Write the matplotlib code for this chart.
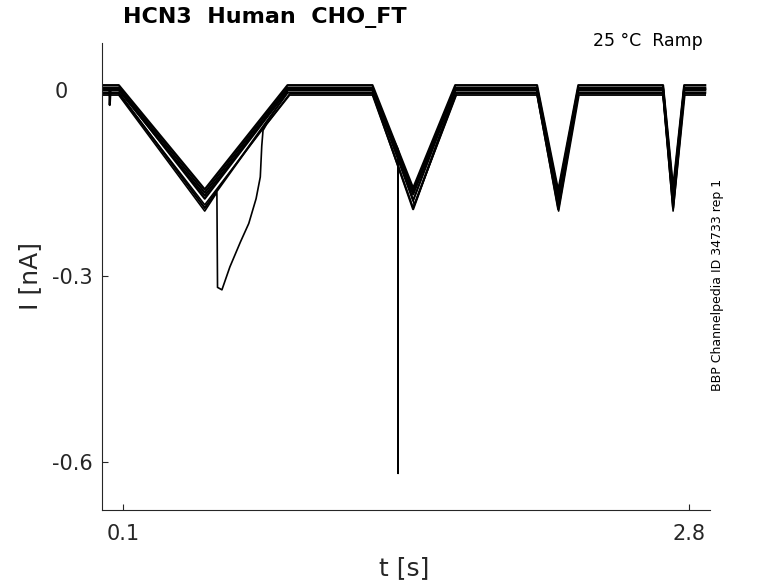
import matplotlib
matplotlib.use("Agg")
import matplotlib.pyplot as plt
import matplotlib.transforms as mtransforms

# breakpoints of the ramp protocol [s]
ramp_t = [0.0, 0.08, 0.49, 0.885, 1.29, 1.484, 1.685, 2.075, 2.176, 2.272, 2.676, 2.724, 2.777, 2.877]

# sweeps [nA]
sweep_1 = [0.008, 0.008, -0.160, 0.008, 0.008, -0.158, 0.008, 0.008, -0.162, 0.008, 0.008, -0.158, 0.008, 0.008]
sweep_2 = [0.004, 0.004, -0.165, 0.004, 0.004, -0.163, 0.004, 0.004, -0.168, 0.004, 0.004, -0.165, 0.004, 0.004]
sweep_3 = [0.000, 0.000, -0.170, 0.000, 0.000, -0.168, 0.000, 0.000, -0.175, 0.000, 0.000, -0.172, 0.000, 0.000]
sweep_4 = [-0.004, -0.004, -0.190, -0.004, -0.004, -0.192, -0.004, -0.004, -0.192, -0.004, -0.004, -0.190, -0.004, -0.004]

# sweep with the early dip at start
dip_t = [0.0, 0.035, 0.037, 0.041, 0.08, 0.49, 0.89, 1.29, 1.484, 1.685, 2.075, 2.176, 2.272, 2.676, 2.724, 2.777, 2.877]
dip_i = [0.002, 0.002, -0.024, 0.002, 0.002, -0.175, 0.002, 0.002, -0.178, 0.002, 0.002, -0.18, 0.002, 0.002, -0.178, 0.002, 0.002]

# sweep with the large inward jump after the first ramp
jump_t = [0.0, 0.08, 0.49, 0.548, 0.551, 0.572, 0.61, 0.66, 0.70, 0.735, 0.755, 0.762, 0.768, 0.785, 0.895,
          1.29, 1.484, 1.69, 2.075, 2.178, 2.275, 2.676, 2.724, 2.78, 2.877]
jump_i = [-0.008, -0.008, -0.195, -0.165, -0.318, -0.322, -0.285, -0.245, -0.215, -0.175, -0.140, -0.090, -0.065,
          -0.055, -0.008, -0.008, -0.190, -0.008, -0.008, -0.195, -0.008, -0.008, -0.195, -0.008, -0.008]

# sweep with the spike on the second ramp
spike_t = [0.0, 0.08, 0.49, 0.895, 1.29, 1.412, 1.4122, 1.4125, 1.49, 1.69, 2.075, 2.176, 2.272, 2.676, 2.724, 2.777, 2.877]
spike_i = [-0.006, -0.006, -0.185, -0.006, -0.006, -0.095, -0.618, -0.096, -0.185, -0.006, -0.006, -0.185, -0.006,
           -0.006, -0.188, -0.006, -0.006]

fig = plt.figure(figsize=(7.78, 5.83), dpi=100)
ax = fig.add_axes([102 / 778, 73 / 583, 608 / 778, 467 / 583])

for s in (sweep_1, sweep_2, sweep_3, sweep_4):
    ax.plot(ramp_t, s, color="black", lw=1.6)
ax.plot(dip_t, dip_i, color="black", lw=1.6)
ax.plot(jump_t, jump_i, color="black", lw=1.2)
ax.plot(spike_t, spike_i, color="black", lw=1.2)

ax.set_xlim(0, 2.9)
ax.set_ylim(-0.677, 0.076)
ax.spines["top"].set_visible(False)
ax.spines["right"].set_visible(False)
for side in ("left", "bottom"):
    ax.spines[side].set_color("#262626")
    ax.spines[side].set_linewidth(0.8)

ax.set_xticks([0.1, 2.8])
ax.set_xticklabels(["0.1", "2.8"])
ax.set_yticks([-0.6, -0.3, 0])
ax.set_yticklabels(["-0.6", "-0.3", "0"])
ax.tick_params(direction="in", length=4, width=0.8, color="#262626",
               labelcolor="#262626", labelsize=15)
ax.tick_params(axis="x", pad=10)
ax.tick_params(axis="y", pad=7)

# the "0" label sits further left in the original
zero_lbl = ax.get_yticklabels()[2]
zero_lbl.set_transform(zero_lbl.get_transform() +
                       mtransforms.ScaledTranslation(-24 / 100, 0, fig.dpi_scale_trans))

fig.text(404 / 778, 1 - 568 / 583, "t [s]", fontsize=18, color="#262626", ha="center", va="center")
fig.text(30 / 778, 1 - 276 / 583, "I [nA]", fontsize=18, color="#262626", ha="center", va="center",
         rotation=90)
fig.text(265 / 778, 1 - 18 / 583, "HCN3  Human  CHO_FT", fontsize=16, fontweight="bold",
         ha="center", va="center")
fig.text(703 / 778, 1 - 41 / 583, "25 °C  Ramp", fontsize=12.5, ha="right", va="center")
fig.text(717 / 778, 1 - 285 / 583, "BBP Channelpedia ID 34733 rep 1", fontsize=9, ha="center",
         va="center", rotation=90)

fig.savefig("out.png", dpi=100)
